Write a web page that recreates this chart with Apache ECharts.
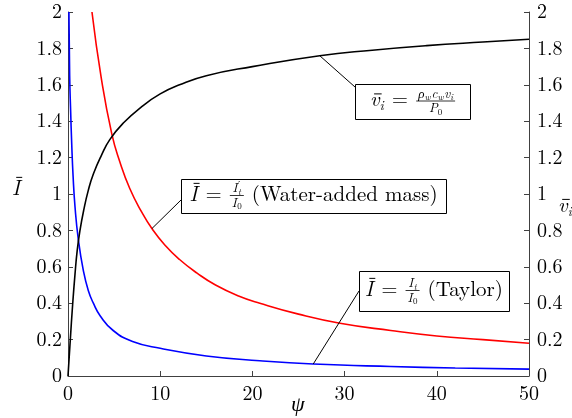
<!DOCTYPE html>
<html><head><meta charset="utf-8">
<script src="https://cdn.jsdelivr.net/npm/echarts@6/dist/echarts.min.js"></script>
<style>html,body{margin:0;padding:0;background:#fff}#c{width:572px;height:418px}</style>
</head><body><div id="c"></div>
<script>
// ---- data ----
const psiTicks = [0, 10, 20, 30, 40, 50];
const yTicks = [0, 0.2, 0.4, 0.6, 0.8, 1, 1.2, 1.4, 1.6, 1.8, 2];

const taylorPsi = [0.1, 0.18, 0.29, 0.4, 0.55, 0.76, 1.12, 1.66, 2.2, 2.75, 3.5, 4.9, 7, 10, 15, 20.8, 26.6, 35, 42, 50];
const taylorI   = [2.0, 1.65, 1.45, 1.28, 1.10, 0.93, 0.75, 0.58, 0.47, 0.40, 0.33, 0.25, 0.19, 0.152, 0.11, 0.084, 0.066, 0.052, 0.044, 0.038];

const waterPsi = [2.6, 3.6, 4.75, 5.6, 6.7, 8, 9.1, 10.5, 12.1, 14, 16, 18.5, 20.8, 25, 29.5, 35, 40, 45, 50];
const waterI   = [2.0, 1.64, 1.33, 1.18, 1.03, 0.90, 0.81, 0.72, 0.64, 0.565, 0.50, 0.44, 0.40, 0.34, 0.29, 0.25, 0.22, 0.20, 0.18];

const velPsi = [0, 0.25, 0.5, 0.76, 1.0, 1.3, 1.7, 2.2, 2.75, 3.6, 4.55, 6, 8, 10, 12.1, 15, 20, 27.3, 33, 38.9, 45, 50];
const velV   = [0, 0.2, 0.39, 0.56, 0.69, 0.80, 0.91, 1.02, 1.11, 1.21, 1.30, 1.39, 1.48, 1.55, 1.60, 1.65, 1.70, 1.76, 1.79, 1.815, 1.835, 1.85];

// annotation anchor points on the curves (data coords)
const anchorVel = [27.3, 1.76];
const anchorWater = [9.1, 0.81];
const anchorTaylor = [26.6, 0.066];

const zip = (a, b) => a.map((v, i) => [v, b[i]]);

const FF = 'Latin Modern Roman';
const AX = '#404040';
const chart = echarts.init(document.getElementById('c'), null, {renderer: 'canvas'});

const axisCommon = {
  type: 'value', min: 0, max: 2, interval: 0.2,
  axisLine: {show: true, lineStyle: {color: AX, width: 1}},
  axisTick: {show: true, inside: true, length: 5, lineStyle: {color: AX}},
  splitLine: {show: false},
  axisLabel: {fontFamily: FF, fontSize: 20, color: '#000'}
};

chart.setOption({
  animation: false,
  backgroundColor: '#fff',
  textStyle: {fontFamily: FF},
  grid: {left: 68, right: 43, top: 12, bottom: 42, containLabel: false, outerBoundsMode: 'none'},
  xAxis: {
    type: 'value', min: psiTicks[0], max: psiTicks[psiTicks.length - 1], interval: 10,
    axisLine: {show: true, onZero: false, lineStyle: {color: AX, width: 1}},
    axisTick: {show: true, inside: true, length: 5, lineStyle: {color: AX}},
    splitLine: {show: false},
    axisLabel: {fontFamily: FF, fontSize: 20, color: '#000', margin: 8}
  },
  yAxis: [
    Object.assign({}, axisCommon, {position: 'left', axisLabel: Object.assign({}, axisCommon.axisLabel, {margin: 6})}),
    Object.assign({}, axisCommon, {position: 'right', axisLabel: Object.assign({}, axisCommon.axisLabel, {margin: 8})})
  ],
  series: [
    {type: 'line', data: zip(taylorPsi, taylorI), yAxisIndex: 0, showSymbol: false, smooth: true,
     lineStyle: {color: '#0000ff', width: 1.6}, clip: true},
    {type: 'line', data: zip(waterPsi, waterI), yAxisIndex: 0, showSymbol: false, smooth: true,
     lineStyle: {color: '#ff0000', width: 1.6}, clip: true},
    {type: 'line', data: zip(velPsi, velV), yAxisIndex: 1, showSymbol: false, smooth: true,
     lineStyle: {color: '#000000', width: 1.6}, clip: true}
  ]
});

// ---- math-like text layout helpers ----
const mctx = document.createElement('canvas').getContext('2d');
function tw(t, s, it, ff) { mctx.font = (it ? 'italic ' : '') + s + 'px ' + (ff || FF); return mctx.measureText(t).width; }
function T(t, x, base, s, it, ff) {
  return {type: 'text', silent: true, z: 100, x: x, y: base - 0.31 * s,
    style: {text: t, fontSize: s, fontFamily: ff || FF, fontStyle: it ? 'italic' : 'normal', fill: '#000',
      align: 'left', verticalAlign: 'middle'}};
}
function L(x1, y1, x2, y2, w) {
  return {type: 'line', silent: true, z: 100, shape: {x1, y1, x2, y2}, style: {stroke: '#000', lineWidth: w || 1}};
}
function measureRun(pieces) {
  let w = 0;
  pieces.forEach(p => { if (p.adv !== false) w += tw(p.t, p.s, p.it, p.ff) + (p.g || 0); });
  return w;
}
function run(pieces, x, base, out) {
  let cx = x;
  pieces.forEach(p => {
    const w = tw(p.t, p.s, p.it, p.ff);
    const px = cx + (p.dx || 0), pb = base + (p.dy || 0);
    out.push(T(p.t, px, pb, p.s, p.it, p.ff));
    if (p.bar) out.push(L(px + p.s * 0.2, pb - p.bar * p.s, px + w + p.s * 0.1, pb - p.bar * p.s, 1));
    if (p.adv !== false) cx += w + (p.g || 0);
  });
  return cx - x;
}
function fracWidth(f) { return Math.max(measureRun(f.num), measureRun(f.den)) + 4; }
function frac(f, x, axis, out) {
  const wn = measureRun(f.num), wd = measureRun(f.den);
  const w = Math.max(wn, wd) + 4;
  out.push(L(x, axis, x + w, axis, 0.8));
  run(f.num, x + (w - wn) / 2, axis - 3, out);
  run(f.den, x + (w - wd) / 2, axis + 11.5, out);
  return w;
}
function formula(items, box, out) {
  let total = 0;
  items.forEach(it => { total += it.type === 'run' ? measureRun(it.p) : it.type === 'frac' ? fracWidth(it.f) : it.w; });
  let x = box.x + (box.w - total) / 2;
  const axis = box.y + box.h / 2 - 0.5;
  const base = axis + 5.5;
  items.forEach(it => {
    if (it.type === 'run') x += run(it.p, x, base, out);
    else if (it.type === 'frac') x += frac(it.f, x, axis, out);
    else x += it.w;
  });
  out.push({type: 'rect', silent: true, z: 99, shape: {x: box.x + 0.5, y: box.y + 0.5, width: box.w, height: box.h},
    style: {fill: '#fff', stroke: '#000', lineWidth: 1}});
}

const M = 21, F = 13, S = 9;
const Ibar = {t: 'I', s: M, it: true, bar: 0.84};
const eqItems = [{type: 'gap', w: 8}, {type: 'run', p: [{t: '=', s: M}]}, {type: 'gap', w: 8}];

function draw() {
  const out = [];
  const boxVel = {x: 355, y: 84, w: 115, h: 35};
  const boxWater = {x: 181, y: 179, w: 265, h: 34};
  const boxTaylor = {x: 359, y: 271, w: 150, h: 40};

  const pV = chart.convertToPixel({xAxisIndex: 0, yAxisIndex: 1}, anchorVel);
  const pW = chart.convertToPixel({xAxisIndex: 0, yAxisIndex: 0}, anchorWater);
  const pT = chart.convertToPixel({xAxisIndex: 0, yAxisIndex: 0}, anchorTaylor);
  out.push(L(pV[0], pV[1], boxVel.x, boxVel.y + 3, 1));
  out.push(L(pW[0], pW[1], boxWater.x, boxWater.y + 21, 1));
  out.push(L(pT[0], pT[1], boxTaylor.x, boxTaylor.y + 20, 1));

  formula([
    {type: 'run', p: [{t: 'v', s: M, it: true, bar: 0.6}, {t: 'i', s: 14, it: true, dy: 4}]},
    ...eqItems,
    {type: 'frac', f: {
      num: [{t: 'ρ', s: F, it: true}, {t: 'w', s: S, it: true, dy: 2.5, g: 1}, {t: 'c', s: F, it: true}, {t: 'w', s: S, it: true, dy: 2.5, g: 1},
            {t: 'v', s: F, it: true}, {t: 'i', s: S, it: true, dy: 2.5}],
      den: [{t: 'P', s: F, it: true}, {t: '0', s: S, dy: 2.5}]}}
  ], boxVel, out);

  formula([
    {type: 'run', p: [Ibar]},
    ...eqItems,
    {type: 'frac', f: {
      num: [{t: 'I', s: F, it: true, g: 0.5}, {t: '\u2032', s: 10, dy: -4, adv: false, ff: 'DejaVu Serif'}, {t: 't', s: S, it: true, dy: 2.5}],
      den: [{t: 'I', s: F, it: true, g: 0.5}, {t: '0', s: S, dy: 2.5}]}},
    {type: 'gap', w: 8},
    {type: 'run', p: [{t: '(Water-added mass)', s: M}]}
  ], boxWater, out);

  formula([
    {type: 'run', p: [Ibar]},
    ...eqItems,
    {type: 'frac', f: {
      num: [{t: 'I', s: F, it: true, g: 0.5}, {t: 't', s: S, it: true, dy: 2.5}],
      den: [{t: 'I', s: F, it: true, g: 0.5}, {t: '0', s: S, dy: 2.5}]}},
    {type: 'gap', w: 8},
    {type: 'run', p: [{t: '(Taylor)', s: M}]}
  ], boxTaylor, out);

  // axis names
  run([Ibar], 12, 195, out);
  run([{t: 'v', s: M, it: true, bar: 0.6}, {t: 'i', s: 13, it: true, dy: 4}], 558, 212, out);
  run([{t: 'ψ', s: 22, it: true}], 291, 411, out);

  chart.setOption({graphic: {elements: out}});
}
draw();
</script>
</body></html>
